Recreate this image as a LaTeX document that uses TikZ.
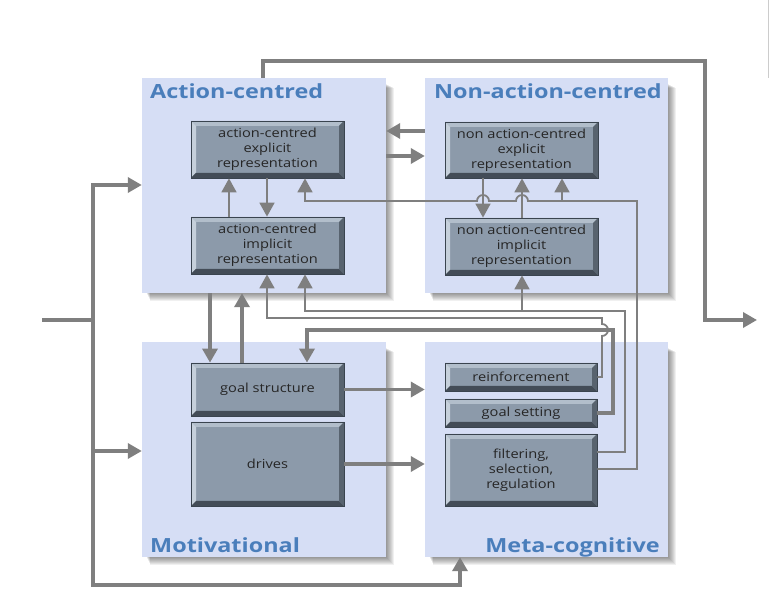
\documentclass[tikz,border=0pt]{standalone}
\usepackage{fontspec}
\setmainfont{Open Sans}[FakeStretch=1.17]
\newfontfamily\titlefont{Open Sans}[FakeStretch=1.2]
\usetikzlibrary{arrows.meta,calc}
\definecolor{regfill}{HTML}{D6DEF5}
\definecolor{titleblue}{HTML}{4A7EBB}
\definecolor{linegray}{HTML}{7F7F7F}
\definecolor{boxface}{HTML}{8C9AAA}
\definecolor{boxedge}{HTML}{3A444F}
\definecolor{bevtop}{HTML}{B2BECB}
\definecolor{bevleft}{HTML}{C6D0DB}
\definecolor{bevbot}{HTML}{434C57}
\definecolor{bevright}{HTML}{58636F}
\definecolor{boxtext}{HTML}{262626}
\tikzset{
  region/.style={fill=regfill, draw=none, inner sep=0pt},
  regtitle/.style={inner sep=0pt, text=titleblue, font=\titlefont\bfseries\fontsize{19.5}{22}\selectfont},
  bevelbox/.style={draw=boxedge, line width=0.8pt, fill=boxface, inner sep=0pt, align=center, text=boxtext,
    font=\fontsize{12.5}{15}\selectfont,
    path picture={
      \coordinate (bvNW) at (path picture bounding box.north west);
      \coordinate (bvNE) at (path picture bounding box.north east);
      \coordinate (bvSW) at (path picture bounding box.south west);
      \coordinate (bvSE) at (path picture bounding box.south east);
      \fill[bevtop] (bvNW) -- (bvNE) -- ($(bvNE)+(-5,5)$) -- ($(bvNW)+(5,5)$) -- cycle;
      \fill[bevleft] (bvNW) -- ($(bvNW)+(5,5)$) -- ($(bvSW)+(5,-5)$) -- (bvSW) -- cycle;
      \fill[bevbot] (bvSW) -- ($(bvSW)+(5,-5)$) -- ($(bvSE)+(-5,-5)$) -- (bvSE) -- cycle;
      \fill[bevright] (bvNE) -- (bvSE) -- ($(bvSE)+(-5,-5)$) -- ($(bvNE)+(-5,5)$) -- cycle;
    }},
  thickline/.style={draw=linegray, line width=3.4pt},
  thinline/.style={draw=linegray, line width=1.8pt},
  arr/.style={-{Triangle[length=14pt,width=15pt]}},
}
\begin{document}
\begin{tikzpicture}[x=1pt,y=-1pt]
\useasboundingbox (0,0) rectangle (769,601);
\fill[white] (0,0) rectangle (769,601);
% shadows of the four regions
\foreach \xa/\ya/\xb/\yb in {142/78/386/293, 425/78/668/293, 142/342/386/557, 425/342/668/557}{
  \foreach \k in {1,...,8}{
    \fill[black,opacity=0.06] ({\xa+4+\k*0.5},{\ya+6+\k*0.5}) rectangle ({\xb+\k},{\yb+\k});
  }
}
% regions
\node[region, minimum width=244pt, minimum height=215pt] (ac) at (264,185.5) {};
\node[region, minimum width=243pt, minimum height=215pt] (nac) at (546.5,185.5) {};
\node[region, minimum width=244pt, minimum height=215pt] (mot) at (264,449.5) {};
\node[region, minimum width=243pt, minimum height=215pt] (meta) at (546.5,449.5) {};
% titles
\node[regtitle, anchor=base west] (tac) at (150,99) {Action-centred};
\node[regtitle, anchor=base west] (tnac) at (434,99) {Non-action-centred};
\node[regtitle, anchor=base west] (tmot) at (150,552) {Motivational};
\node[regtitle, anchor=base east] (tmeta) at (660,552) {Meta-cognitive};
% boxes
\node[bevelbox, minimum width=153pt, minimum height=57pt] (ace) at (267.5,149.5) {action-centred\\explicit\\representation};
\node[bevelbox, minimum width=153pt, minimum height=57pt] (aci) at (267.5,245.5) {action-centred\\implicit\\representation};
\node[bevelbox, minimum width=153pt, minimum height=56pt] (nace) at (521.5,150) {non action-centred\\explicit\\representation};
\node[bevelbox, minimum width=153pt, minimum height=57pt] (naci) at (521.5,246.5) {non action-centred\\implicit\\representation};
\node[bevelbox, minimum width=153pt, minimum height=53pt] (gs) at (267.5,389.5) {goal structure};
\node[bevelbox, minimum width=153pt, minimum height=84pt] (dr) at (267.5,464) {drives};
\node[bevelbox, minimum width=152pt, minimum height=28pt] (reinf) at (521,377) {reinforcement};
\node[bevelbox, minimum width=152pt, minimum height=28pt] (gset) at (521,413) {goal setting};
\node[bevelbox, minimum width=152pt, minimum height=72pt] (filt) at (521,470) {filtering,\\selection,\\regulation};
% helper coordinates
\coordinate (in) at (42,320);
\coordinate (jm) at (93,320);
\coordinate (j1) at (93,185);
\coordinate (j2) at (93,451);
\coordinate (j3) at (93,585);
\coordinate (x460) at (460,0);
\coordinate (t1) at (263,61);
\coordinate (t2) at (705,61);
\coordinate (out) at (757,320);
\coordinate (h1) at (0,131);
\coordinate (h2) at (0,156);
\coordinate (x229) at (229,0);
\coordinate (x267) at (267,0);
\coordinate (x483) at (483,0);
\coordinate (x522) at (522,0);
\coordinate (x562) at (562,0);
\coordinate (x210) at (210,0);
\coordinate (x242) at (242,0);
\coordinate (c1) at (613,413);
\coordinate (c2) at (613,330);
\coordinate (c3) at (307,330);
\coordinate (b1) at (602,377);
\coordinate (b2) at (602,318);
\coordinate (b3) at (267,318);
\coordinate (a1) at (625,452);
\coordinate (a2) at (625,311);
\coordinate (a3) at (305,311);
\coordinate (d1) at (637,469);
\coordinate (d2) at (637,201);
\coordinate (d3) at (305,201);
% input
\draw[thickline] (in) -- (jm);
\draw[thickline,arr] (j3) -- (j1) -- (j1 -| ac.west);
\draw[thickline,arr] (j1) -- (j3) -- (j3 -| x460) -- (meta.south -| x460);
\draw[thickline,arr] (j2) -- (j2 -| mot.west);
% output
\draw[thickline,arr] (ac.north -| t1) -- (t1) -- (t2) -- (t2 |- out) -- (out);
% action-centred <-> non-action-centred
\draw[thickline,arr] (nac.west |- h1) -- (ac.east |- h1);
\draw[thickline,arr] (ac.east |- h2) -- (nac.west |- h2);
% inside action-centred
\draw[thinline,arr] (aci.north -| x229) -- (ace.south -| x229);
\draw[thinline,arr] (ace.south -| x267) -- (aci.north -| x267);
% inside non-action-centred
\draw[thinline,arr] (nace.south -| x483) -- (naci.north -| x483);
\draw[thinline,arr] (naci.north -| x522) -- (nace.south -| x522);
% action-centred <-> motivational
\draw[thickline,arr] (ac.south -| x210) -- (gs.north -| x210);
\draw[thickline,arr] (gs.north -| x242) -- (ac.south -| x242);
% motivational -> meta-cognitive
\draw[thickline,arr] (gs.east) -- (meta.west |- gs.east);
\draw[thickline,arr] (dr.east) -- (meta.west |- dr.east);
% goal setting -> goal structure
\draw[thickline,arr] (gset.east) -- (c1) -- (c2) -- (c3) -- (gs.north -| c3);
% reinforcement -> action-centred implicit
\draw[thinline,arr] (reinf.east) -- (b1) -- ($(b1 |- c2)+(0,6)$) arc[start angle=90,end angle=-90,radius=6] -- (b2) -- (b3) -- (aci.south -| b3);
% filtering -> implicit representations
\draw[thinline,arr] (filt.east |- a1) -- (a1) -- (a2) -- (a3) -- (aci.south -| a3);
\draw[thinline,arr] (a3 -| x522) -- (naci.south -| x522);
% filtering -> explicit representations
\draw[thinline,arr] (filt.east |- d1) -- (d1) -- (d2) -- ($(d2 -| x522)+(6,0)$) arc[start angle=0,end angle=-180,radius=6] -- ($(d2 -| x483)+(6,0)$) arc[start angle=0,end angle=-180,radius=6] -- (d3) -- (ace.south -| d3);
\draw[thinline,arr] (d2 -| x562) -- (nace.south -| x562);
% edge mark at top right
\draw[black!20, line width=1pt] (768,0) -- (768,78);
\end{tikzpicture}
\end{document}
